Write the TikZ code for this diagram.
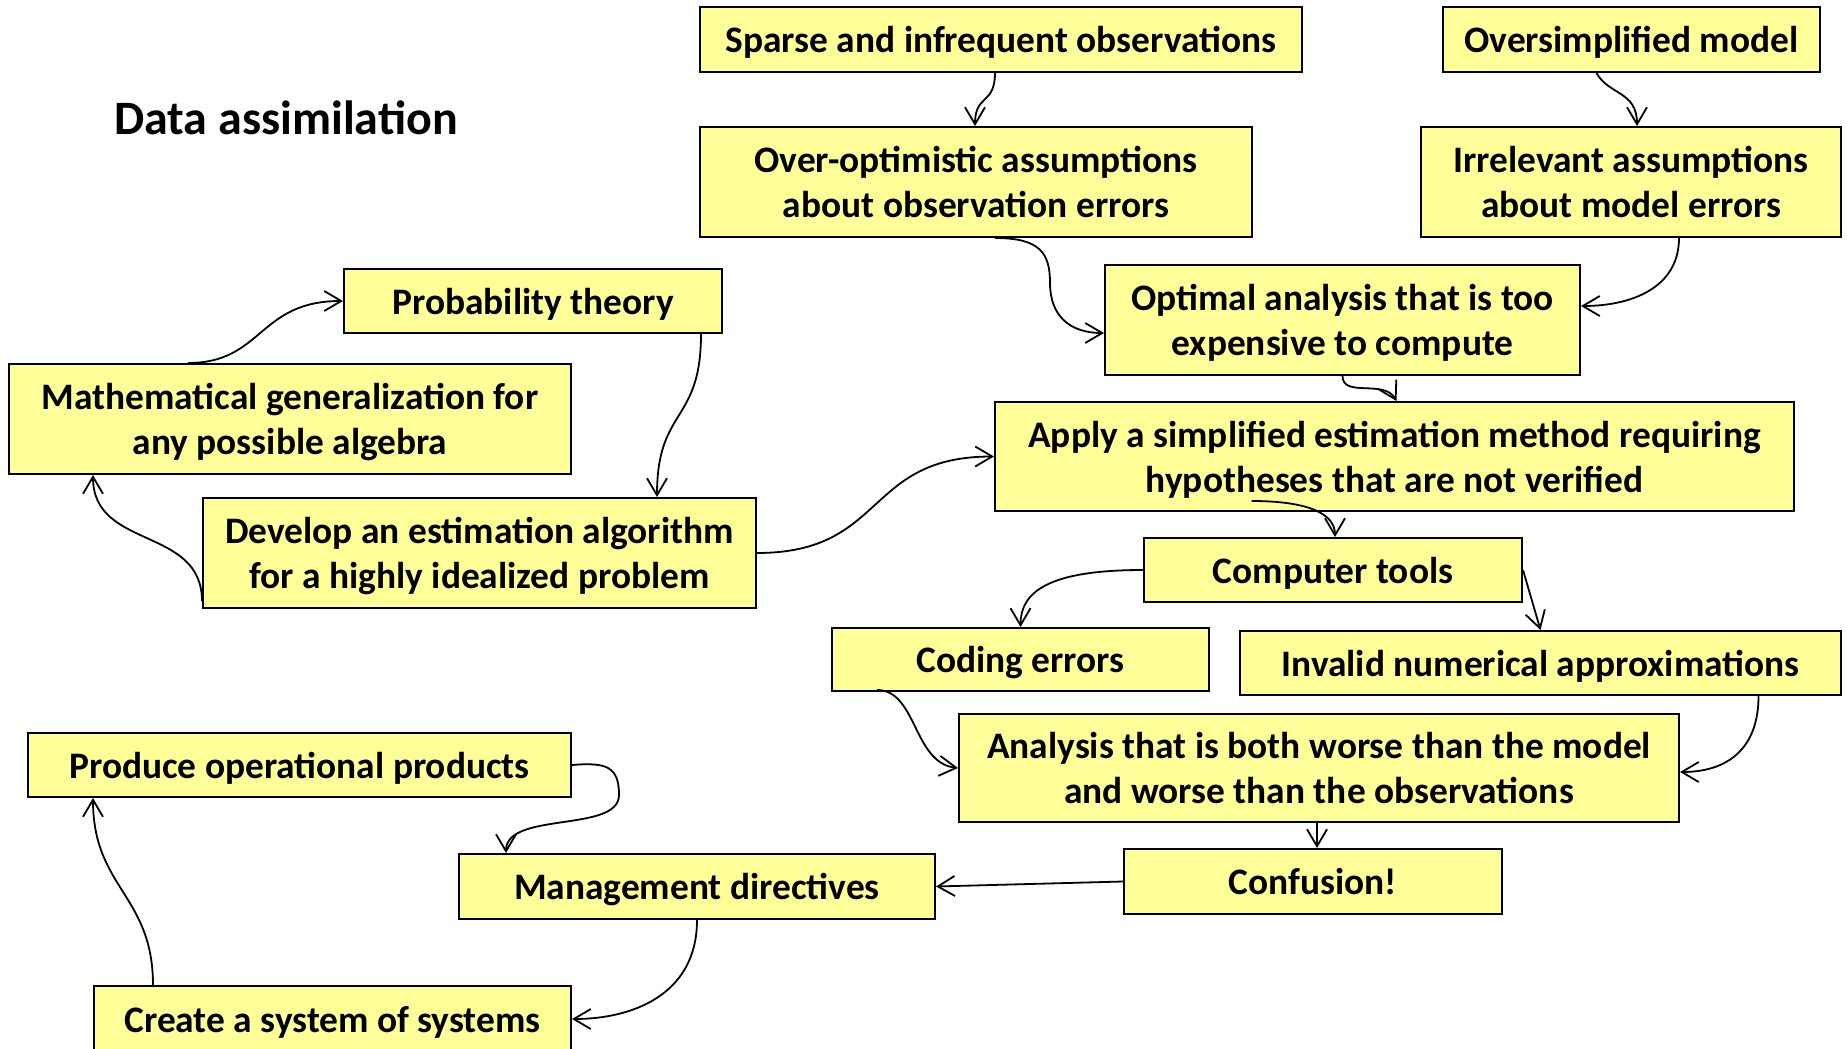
\documentclass[tikz,border=0pt]{standalone}
\usepackage{fontspec}
\setmainfont{Carlito}
\usetikzlibrary{arrows.meta}
\definecolor{boxfill}{HTML}{FFFF99}
\begin{document}
\begin{tikzpicture}[x=1pt,y=-1pt,
  box/.style={draw=black,line width=2pt,fill=boxfill,inner sep=0pt,align=center,text depth=0pt,
    font=\fontsize{37.4}{45}\selectfont\bfseries},
  link/.style={line width=1.8pt,-{Straight Barb[length=17pt,width=20pt,line width=1.8pt]}}]
\useasboundingbox (0,0) rectangle (1847,1049);

\node[font=\fontsize{48}{56}\selectfont\bfseries] (title) at (286,118) {Data assimilation};

\node[box,minimum width=602,minimum height=65] (sparse) at (1001,39.5) {Sparse and infrequent observations};
\node[box,minimum width=377,minimum height=65] (oversimp) at (1631.5,39.5) {Oversimplified model};
\node[box,minimum width=552,minimum height=110] (overopt) at (976,182) {Over-optimistic assumptions\\about observation errors};
\node[box,minimum width=420,minimum height=110] (irrel) at (1631,182) {Irrelevant assumptions\\about model errors};
\node[box,minimum width=378,minimum height=64] (prob) at (533,301) {Probability theory};
\node[box,minimum width=475,minimum height=110] (optimal) at (1342.5,320) {Optimal analysis that is too\\expensive to compute};
\node[box,minimum width=562,minimum height=110] (math) at (290,419) {Mathematical generalization for\\any possible algebra};
\node[box,minimum width=799,minimum height=109] (apply) at (1394.5,456.5) {Apply a simplified estimation method requiring\\hypotheses that are not verified};
\node[box,minimum width=553,minimum height=110] (develop) at (479.5,553) {Develop an estimation algorithm\\for a highly idealized problem};
\node[box,minimum width=378,minimum height=64] (comp) at (1333,570) {Computer tools};
\node[box,minimum width=377,minimum height=63] (coding) at (1020.5,659.5) {Coding errors};
\node[box,minimum width=601,minimum height=64] (invalid) at (1540.5,663) {Invalid numerical approximations};
\node[box,minimum width=720,minimum height=108] (analysis) at (1319,768) {Analysis that is both worse than the model\\and worse than the observations};
\node[box,minimum width=543,minimum height=64] (produce) at (299.5,765) {Produce operational products};
\node[box,minimum width=378,minimum height=65] (confusion) at (1313,881.5) {Confusion!};
\node[box,minimum width=476,minimum height=65] (mgmt) at (697,886.5) {Management directives};
\node[box,minimum width=477,minimum height=66] (create) at (332.5,1019) {Create a system of systems};

% upper chain: observations and model
\draw[link] ([xshift=-6]sparse.south) .. controls +(0,32) and +(0,-32) .. ([xshift=-1]overopt.north);
\draw[link] ([xshift=-35]oversimp.south) .. controls +(12,22) and +(0,-35) .. ([xshift=6]irrel.north);
\draw[link] ([xshift=19]overopt.south) .. controls +(45,0) and +(0,-30) .. ++(55,45)
  .. controls +(0,32) and +(-35,0) .. ([yshift=-13]optimal.west);
\draw[link] ([xshift=48]irrel.south) .. controls +(0,50) and +(50,0) .. ([yshift=14]optimal.east);
\draw[link] (optimal.south) .. controls +(0,22) and +(-12,-22) .. ([xshift=2]apply.north);

% theory loop on the left
\draw[link] ([xshift=-22]prob.south east) .. controls +(0,90) and +(0,-90) .. ([xshift=-100]develop.north east);
\draw[link] ([xshift=-102]math.north) .. controls +(75,0) and +(-85,0) .. (prob.west);
\draw[link] ([yshift=8]develop.south west) .. controls +(0,-75) and +(0,75) .. ([xshift=85]math.south west);
\draw[link] (develop.east) .. controls +(130,0) and +(-130,0) .. (apply.west);

% computation branch
\draw[link] ([xshift=-143,yshift=11]apply.south) .. controls +(60,0) and +(0,-22) .. ([xshift=2]comp.north);
\draw[link] (comp.west) .. controls +(-95,0) and +(0,-35) .. (coding.north);
\draw[link] (comp.east) -- (invalid.north);
\draw[link] ([xshift=46,yshift=2]coding.south west) .. controls +(40,0) and +(-45,-5) .. (analysis.west);
\draw[link] ([xshift=218]invalid.south) .. controls +(0,55) and +(45,0) .. ([yshift=-4]analysis.east);
\draw[link] ([xshift=-2]analysis.south) -- ([xshift=4]confusion.north);
\draw[link] (confusion.west) -- (mgmt.east);

% management loop at the bottom
\draw[link] (produce.east) .. controls +(35,-3) and +(0,-28) .. ++(47,30)
  .. controls +(0,38) and +(0,-42) .. ([xshift=-191]mgmt.north);
\draw[link] (mgmt.south) .. controls +(0,75) and +(60,0) .. (create.east);
\draw[link] ([xshift=60]create.north west) .. controls +(0,-90) and +(0,90) .. ([xshift=66]produce.south west);
\end{tikzpicture}
\end{document}
